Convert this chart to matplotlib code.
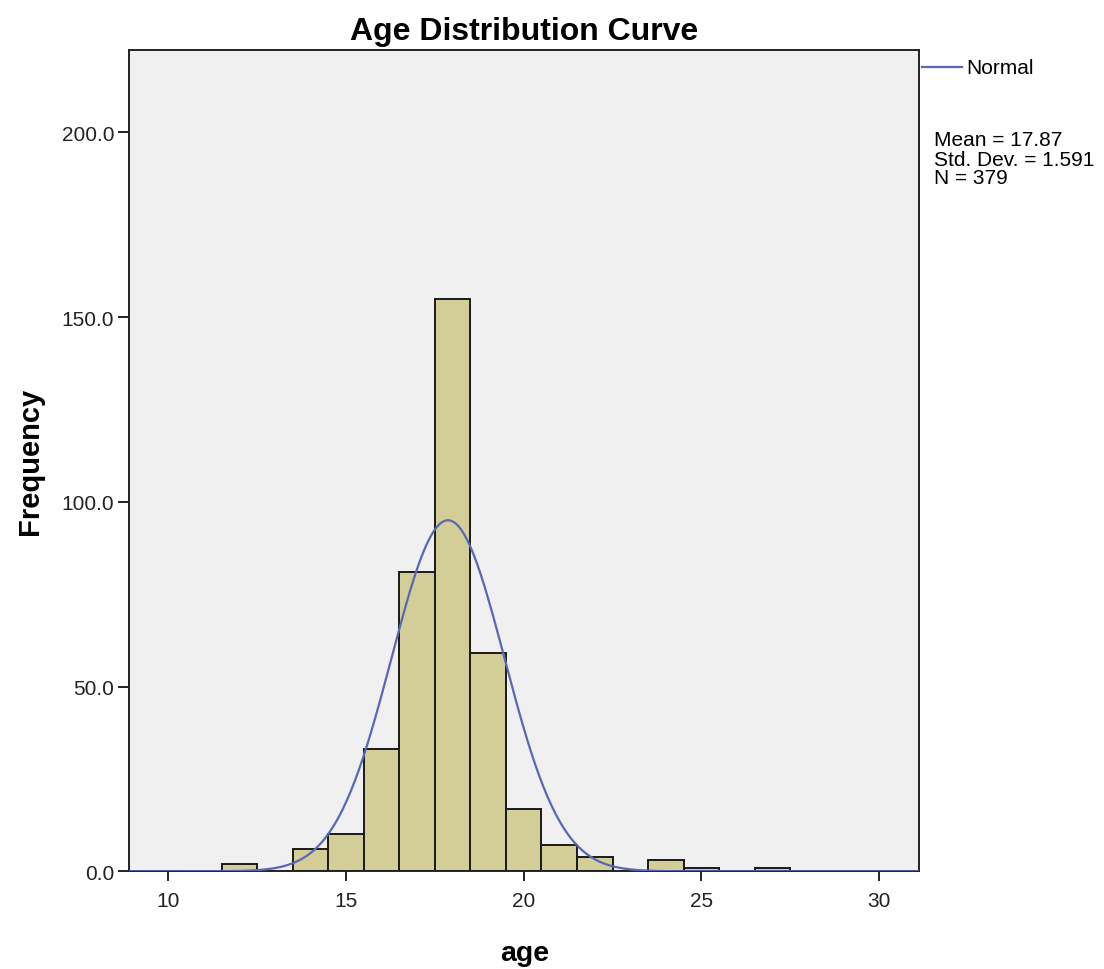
import numpy as np
import matplotlib
matplotlib.use("Agg")
import matplotlib.pyplot as plt

# ---- data ----
ages = [12, 13, 14, 15, 16, 17, 18, 19, 20, 21, 22, 23, 24, 25, 26, 27]
counts = [2, 0, 6, 10, 33, 81, 155, 59, 17, 7, 4, 0, 3, 1, 0, 1]
mean_age = 17.87
std_dev = 1.591
n_obs = 379
x_ticks = [10, 15, 20, 25, 30]
y_ticks = [0.0, 50.0, 100.0, 150.0, 200.0]

plt.rcParams['font.family'] = ['Liberation Sans', 'DejaVu Sans']

fig = plt.figure(figsize=(11.04, 9.70), dpi=100)
ax = fig.add_axes([0.1173, 0.1007, 0.7151, 0.847])
ax.set_facecolor('#f0f0f0')

ax.bar(ages, counts, width=1.0, color='#d3ce97', edgecolor='#1a1a1a',
       linewidth=1.4, zorder=2)

xmin, xmax = 8.91, 31.12
xs = np.linspace(xmin, xmax, 600)
bin_w = 1.0
curve = n_obs * bin_w / (std_dev * np.sqrt(2 * np.pi)) * np.exp(-0.5 * ((xs - mean_age) / std_dev) ** 2)
ax.plot(xs, curve, color='#5868b4', linewidth=1.6, zorder=3)

ax.set_xlim(xmin, xmax)
ax.set_ylim(0, 222.4)
ax.set_xticks(x_ticks)
ax.set_xticklabels([str(v) for v in x_ticks])
ax.set_yticks(y_ticks)
ax.set_yticklabels([f"{v:.1f}" for v in y_ticks])
ax.tick_params(axis='x', direction='out', length=7, width=1.4, pad=7,
               labelsize=15, colors='#222222')
ax.tick_params(axis='y', direction='out', length=8, width=1.4, pad=3,
               labelsize=15, colors='#222222')
for s in ax.spines.values():
    s.set_linewidth(1.4)
    s.set_color('#222222')

ax.set_title('Age Distribution Curve', fontsize=23, fontweight='bold', pad=8)
ax.set_xlabel('age', fontsize=20.5, fontweight='bold', labelpad=22)
ax.set_ylabel('Frequency', fontsize=21, fontweight='bold')
ax.yaxis.set_label_coords(-0.108, 0.5)

# legend
fig.add_artist(plt.Line2D([922 / 1104, 962 / 1104], [1 - 68 / 970, 1 - 68 / 970],
                          color='#5868b4', linewidth=1.6))
fig.text(966 / 1104, 1 - 68 / 970, 'Normal', fontsize=15, va='center', ha='left')

stats_lines = [f"Mean = {mean_age:.2f}", f"Std. Dev. = {std_dev:.3f}", f"N = {n_obs}"]
for i, t in enumerate(stats_lines):
    fig.text(934 / 1104, 1 - (141 + 19 * i) / 970, t, fontsize=15, va='center', ha='left')

fig.savefig('out.png', dpi=100)
